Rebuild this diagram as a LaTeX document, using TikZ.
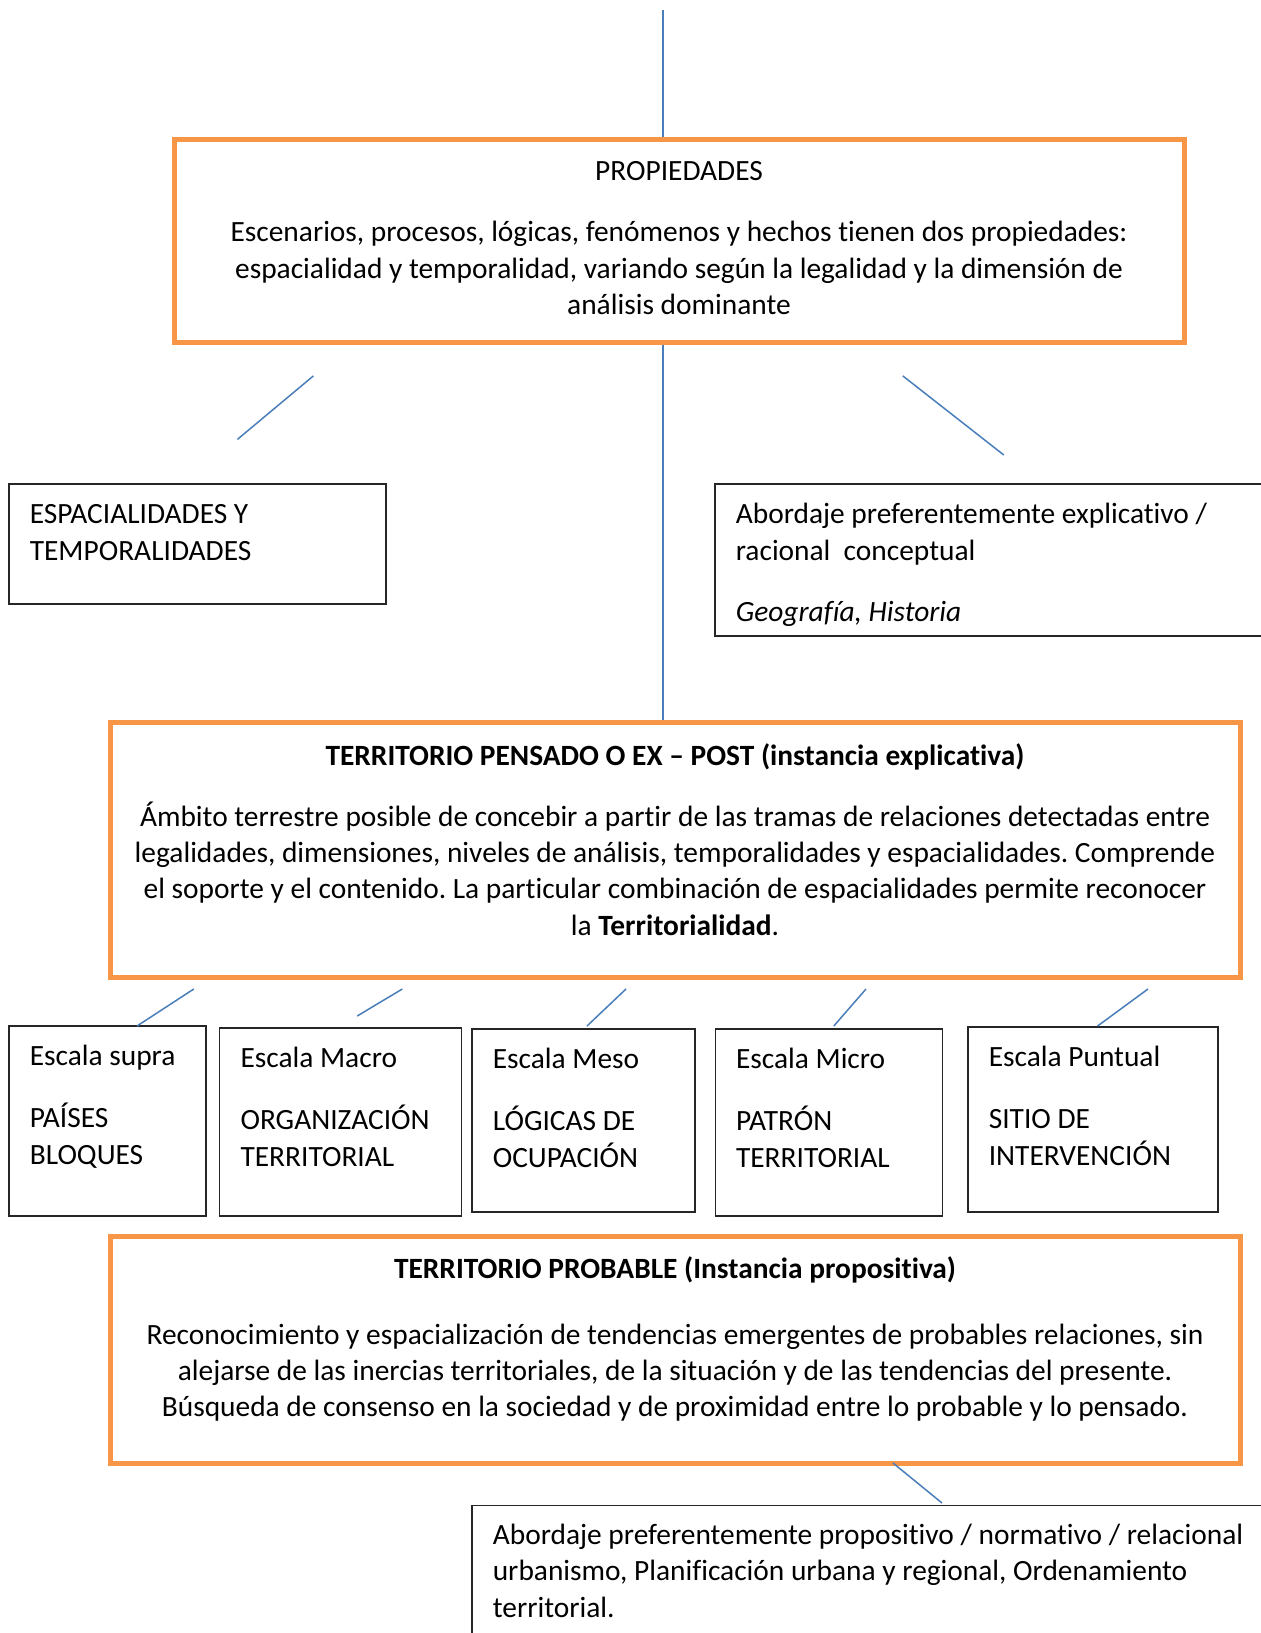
\documentclass[tikz,border=0pt]{standalone}
\usepackage{fontspec}
\setmainfont{Carlito}[Ligatures=NoCommon]
\usetikzlibrary{positioning}
\definecolor{naranja}{HTML}{F79646}
\definecolor{azul}{HTML}{4A7EBB}
\frenchspacing

\begin{document}
\begin{tikzpicture}[x=0.5pt,y=-0.5pt,
  marco/.style={draw=naranja,line width=2.5pt,inner sep=0pt},
  caja/.style={draw=black!85,line width=0.6pt,inner sep=0pt},
  texto/.style={inner sep=0pt,font=\fontsize{14.7}{18.2}\selectfont},
  enlace/.style={draw=azul,line width=0.75pt}]
\useasboundingbox (0,0) rectangle (1261,1633);
\clip (0,0) rectangle (1261,1633);

% cajas naranjas
\node[marco,minimum width=505pt,minimum height=101.25pt] (prop) at (679,240.75) {};
\node[marco,minimum width=565pt,minimum height=127.5pt] (pensado) at (675,849.5) {};
\node[marco,minimum width=565pt,minimum height=113.6pt] (probable) at (675,1349.7) {};

\node[texto,align=center,below=9pt of prop.north] (prop-t) {\strut PROPIEDADES\\[12.3pt]
  Escenarios, procesos, lógicas, fenómenos y hechos tienen dos propiedades:\\
  espacialidad y temporalidad, variando según la legalidad y la dimensión de\\
  análisis dominante};
\node[texto,align=center,below=9.85pt of pensado.north] (pensado-t) {\strut\textbf{TERRITORIO PENSADO O EX – POST (instancia explicativa)}\\[12.3pt]
  Ámbito terrestre posible de concebir a partir de las tramas de relaciones detectadas entre\\
  legalidades, dimensiones, niveles de análisis, temporalidades y espacialidades. Comprende\\
  el soporte y el contenido. La particular combinación de espacialidades permite reconocer\\
  la \textbf{Territorialidad}.};
\node[texto,align=center,below=9.35pt of probable.north] (probable-t) {\strut\textbf{TERRITORIO PROBABLE (Instancia propositiva)}\\[14.8pt]
  Reconocimiento y espacialización de tendencias emergentes de probables relaciones, sin\\
  alejarse de las inercias territoriales, de la situación y de las tendencias del presente.\\
  Búsqueda de consenso en la sociedad y de proximidad entre lo probable y lo pensado.};

% cajas negras
\node[caja,minimum width=188.5pt,minimum height=60pt] (esp) at (197.5,544) {};
\node[caja,minimum width=292.5pt,minimum height=76pt] (abord) at (1007.5,560) {};
\node[caja,minimum width=414pt,minimum height=77.25pt] (final) at (886,1582.75) {};

\node[texto,align=left,below right=7.25pt and 10.5pt of esp.north west] (esp-t) {\strut ESPACIALIDADES Y\\TEMPORALIDADES};
\node[texto,align=left,below right=7.25pt and 10.5pt of abord.north west] (abord-t) {\strut Abordaje preferentemente explicativo /\\racional \ conceptual\\[12.3pt]
  \textit{Geografía, Historia}};
\node[texto,align=left,below right=6.7pt and 10.5pt of final.north west] (final-t) {\strut Abordaje preferentemente propositivo / normativo / relacional\\
  urbanismo, Planificación urbana y regional, Ordenamiento\\territorial.};

\foreach \n/\x/\y/\w/\h/\a/\b/\c in {
  supra/107.5/1121/98.5pt/95pt/Escala supra/PAÍSES/BLOQUES,
  macro/340.75/1122/121pt/94pt/Escala Macro/ORGANIZACIÓN/TERRITORIAL,
  meso/583.5/1120.5/111.5pt/91.5pt/Escala Meso/LÓGICAS DE/OCUPACIÓN,
  micro/828.75/1122.5/113.5pt/93.5pt/Escala Micro/PATRÓN/TERRITORIAL,
  puntual/1093/1119.5/125pt/92.5pt/Escala Puntual/SITIO DE/INTERVENCIÓN} {
  \node[caja,minimum width=\w,minimum height=\h] (\n) at (\x,\y) {};
  \node[texto,align=left,below right=7.25pt and 10.5pt of \n.north west] (\n-t) {\strut\a\\[12.8pt]\b\\\c};
}

% lineas azules
\coordinate (arriba) at (663,10);
\draw[enlace] (arriba) -- (arriba |- prop.north);
\draw[enlace] (arriba |- prop.south) -- (arriba |- pensado.north);
\foreach \n/\xa/\ya/\xb/\yb in {d1/313.4/375.9/237.4/439.4, d2/902.8/375.9/1003.8/455,
  e1/193.8/989/137/1026, e2/402.3/989/357.2/1016, e3/626/989/587/1026,
  e4/866/989/833.8/1026, e5/1148/989/1097.6/1026, f1/893/1463/942/1503} {
  \coordinate (\n a) at (\xa,\ya);
  \coordinate (\n b) at (\xb,\yb);
  \draw[enlace] (\n a) -- (\n b);
}
\end{tikzpicture}
\end{document}
